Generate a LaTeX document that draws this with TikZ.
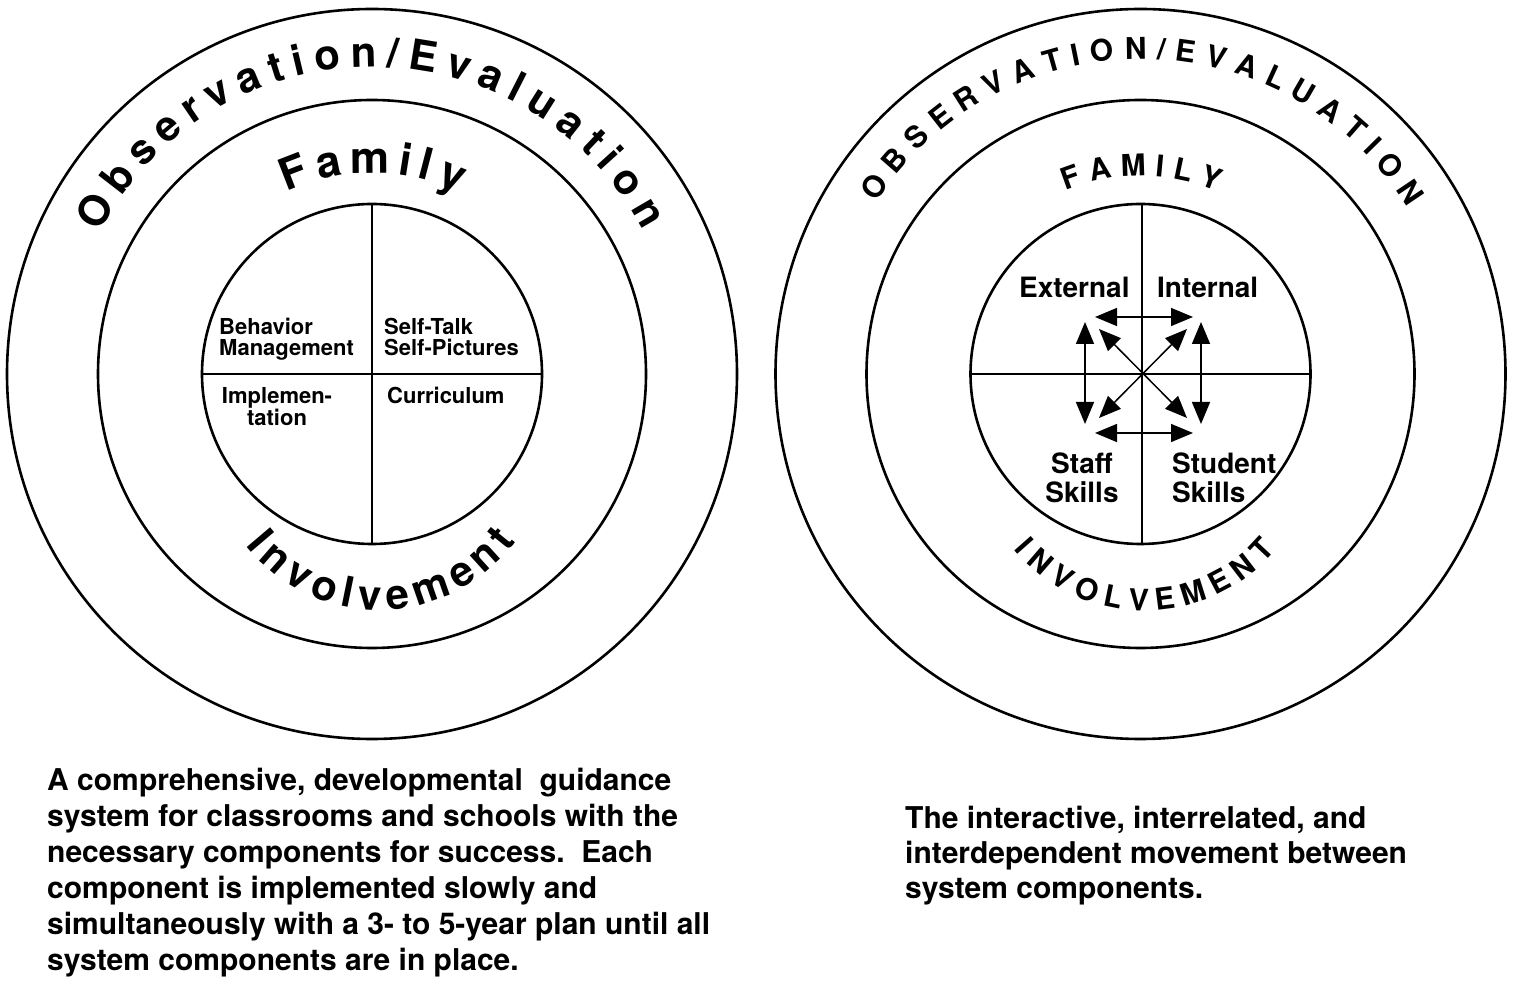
\documentclass[tikz,border=0pt]{standalone}
\usepackage{fontspec}
\setmainfont{TeX Gyre Heros}
\usetikzlibrary{arrows.meta, calc, decorations.text}

\newcommand\bandfont{\fontsize{42}{42}\selectfont\bfseries}
\newcommand\capsfont{\fontsize{30}{30}\selectfont\bfseries}
\newcommand\cellfont{\fontsize{22}{21}\selectfont\bfseries}
\newcommand\bigcellfont{\fontsize{28}{29}\selectfont\bfseries}

\begin{document}
\begin{tikzpicture}[x=1pt, y=1pt,
    ring/.style={line width=2.6pt},
    split/.style={line width=2.4pt},
    link/.style={line width=1.5pt, {Triangle[length=22pt,width=18pt]}-{Triangle[length=22pt,width=18pt]}},
    cell/.style={inner sep=0pt, font=\cellfont, align=left},
    bigcell/.style={inner sep=0pt, font=\bigcellfont, align=left},
    note/.style={inner sep=0pt, align=left}]
  \useasboundingbox (0,0) rectangle (1526,996);

  % left wheel
  \coordinate (lc) at (372,622);
  \draw[ring] (lc) circle[radius=365];
  \draw[ring] (lc) circle[radius=274];
  \draw[ring] (lc) circle[radius=170];
  \draw[split] ($(lc)+(0,170)$) -- ($(lc)+(0,-170)$);
  \draw[split] ($(lc)+(-170,0)$) -- ($(lc)+(170,0)$);

  \path[decorate, decoration={text along path, text align={fit to path},
      text={|\bandfont|Observation/Evaluation}}]
    ($(lc)+(152.5:307)$) arc[start angle=152.5, end angle=27.9, radius=307];
  \path[decorate, decoration={text along path, text align={fit to path},
      text={|\fontsize{44}{44}\selectfont\bfseries|Family}}]
    ($(lc)+(115:201)$) arc[start angle=115, end angle=64.5, radius=201];
  \coordinate (lcb) at (379,556);
  \path[decorate, decoration={text along path, text align={fit to path},
      text={|\bandfont|Involvement}}]
    ($(lcb)+(218.4:170)$) arc[start angle=218.4, end angle=323.5, radius=170];

  \node[cell, anchor=north west] (behavior) at (219,678) {Behavior\\Management};
  \node[cell, anchor=north west] (selftalk) at (384,678) {Self-Talk\\Self-Pictures};
  \node[cell, anchor=north, align=center] (implement) at (277,609) {Implemen-\\tation};
  \node[cell, anchor=north west] (curriculum) at (387,609) {Curriculum};

  % right wheel
  \coordinate (rc) at (1140.5,622);
  \draw[ring] (rc) circle[radius=365];
  \draw[ring] (rc) circle[radius=274];
  \draw[ring] (rc) circle[radius=170];
  \draw[split] ($(rc)+(1.5,170)$) -- ($(rc)+(1.5,-170)$);
  \draw[split] ($(rc)+(-170,0)$) -- ($(rc)+(170,0)$);

  \path[decorate, decoration={text along path, text align={fit to path},
      text={|\capsfont|OBSERVATION/EVALUATION}}]
    ($(rc)+(147:315)$) arc[start angle=147, end angle=32, radius=315];
  \path[decorate, decoration={text along path, text align={fit to path},
      text={|\capsfont|FAMILY}}]
    ($(rc)+(112.3:198)$) arc[start angle=112.3, end angle=67.2, radius=198];
  \coordinate (rcb) at (1145,556);
  \path[decorate, decoration={text along path, text align={fit to path},
      text={|\capsfont|INVOLVEMENT}}]
    ($(rcb)+(220:171)$) arc[start angle=220, end angle=320, radius=171];

  \node[bigcell, anchor=north west] (external) at (1019,719) {External};
  \node[bigcell, anchor=north west] (internal) at (1157,719) {Internal};
  \node[bigcell, anchor=north, align=center] (staff) at (1082,543) {Staff\\Skills};
  \node[bigcell, anchor=north west] (student) at (1172,543) {Student\\Skills};

  \coordinate (topW) at (1095,679);
  \coordinate (topE) at (1193,679);
  \coordinate (botW) at (1095,563);
  \coordinate (botE) at (1193,563);
  \coordinate (westN) at (1085,674);
  \coordinate (westS) at (1085,572);
  \coordinate (eastN) at (1201,674);
  \coordinate (eastS) at (1201,572);
  \coordinate (diagNW) at (1099,667);
  \coordinate (diagSE) at (1187,578);
  \coordinate (diagNE) at (1187,667);
  \coordinate (diagSW) at (1099,578);
  \draw[link] (topW) -- (topE);
  \draw[link] (botW) -- (botE);
  \draw[link] (westN) -- (westS);
  \draw[link] (eastN) -- (eastS);
  \draw[link] (diagNW) -- (diagSE);
  \draw[link] (diagNE) -- (diagSW);

  % captions
  \node[note, anchor=north west, font=\fontsize{30}{36}\selectfont\bfseries] (leftnote) at (47,228)
    {A comprehensive, developmental\ \ guidance\\
     system for classrooms and schools with the\\
     necessary components for success.\ \ Each\\
     component is implemented slowly and\\
     simultaneously with a 3- to 5-year plan until all\\
     system components are in place.};
  \node[note, anchor=north west, font=\fontsize{30}{35}\selectfont\bfseries] (rightnote) at (905,190)
    {The interactive, interrelated, and\\
     interdependent movement between\\
     system components.};
\end{tikzpicture}
\end{document}
